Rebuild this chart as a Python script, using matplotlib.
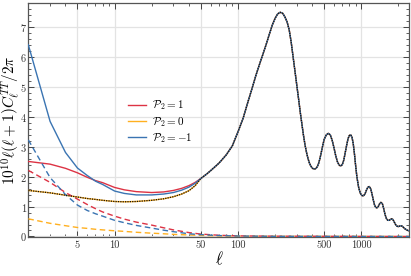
import numpy as np
import matplotlib
matplotlib.use("Agg")
import matplotlib.pyplot as plt
from matplotlib.ticker import FixedLocator, NullFormatter, FixedFormatter

plt.rcParams['mathtext.fontset'] = 'cm'
plt.rcParams['font.family'] = ['cmr10', 'DejaVu Serif']
plt.rcParams['axes.formatter.use_mathtext'] = True

# ---- data ----
ell_low = [2, 3, 4, 5, 6, 7, 8, 10, 12, 15, 20, 25, 30, 35, 40, 45]
P1_low  = [2.51, 2.42, 2.28, 2.13, 1.98, 1.87, 1.80, 1.64, 1.56, 1.50, 1.47, 1.49, 1.54, 1.61, 1.70, 1.81]
P0_low  = [1.54, 1.46, 1.38, 1.32, 1.27, 1.24, 1.21, 1.17, 1.16, 1.17, 1.21, 1.26, 1.33, 1.42, 1.53, 1.70]
Pm1_low = [6.41, 3.85, 2.81, 2.29, 2.04, 1.85, 1.74, 1.52, 1.44, 1.39, 1.39, 1.42, 1.47, 1.55, 1.65, 1.78]

ell_high = [50, 55, 60, 70, 80, 90, 100, 110, 120, 130, 140, 150, 160, 170, 180,
            190, 200, 210, 220, 230, 240, 250, 260, 270, 280, 290, 300, 310, 320,
            330, 340, 350, 360, 370, 380, 390, 400, 410, 420, 430, 440, 450, 460,
            470, 480, 490, 500, 520, 540, 560, 580, 600, 620, 640, 660, 680, 700,
            720, 740, 760, 780, 800, 820, 840, 860, 880, 900, 920, 950, 980, 1010,
            1040, 1070, 1100, 1130, 1160, 1190, 1220, 1250, 1280, 1310, 1340, 1370,
            1400, 1440, 1480, 1520, 1560, 1600, 1640, 1680, 1720, 1760, 1800, 1850,
            1900, 1950, 2000, 2050, 2090, 2150, 2250, 2350, 2500]
cl_high  = [1.94, 2.07, 2.20, 2.45, 2.72, 3.03, 3.50, 3.95, 4.48, 4.95, 5.40, 5.78,
            6.12, 6.45, 6.78, 7.08, 7.30, 7.45, 7.50, 7.47, 7.35, 7.18, 6.92, 6.50,
            6.00, 5.52, 5.05, 4.60, 4.15, 3.75, 3.37, 3.05, 2.80, 2.60, 2.45, 2.35,
            2.29, 2.26, 2.26, 2.28, 2.34, 2.44, 2.58, 2.75, 2.93, 3.10, 3.25, 3.40,
            3.45, 3.40, 3.22, 2.97, 2.70, 2.50, 2.39, 2.36, 2.40, 2.55, 2.80, 3.05,
            3.27, 3.38, 3.40, 3.32, 3.10, 2.75, 2.35, 2.00, 1.65, 1.45, 1.37, 1.36,
            1.42, 1.55, 1.65, 1.67, 1.60, 1.42, 1.22, 1.05, 0.97, 0.96, 1.00, 1.08,
            1.14, 1.10, 0.92, 0.72, 0.59, 0.54, 0.54, 0.57, 0.59, 0.57, 0.48, 0.39,
            0.34, 0.33, 0.35, 0.36, 0.34, 0.26, 0.21, 0.17]

ell_dash = [2, 3, 4, 5, 6, 7, 8, 10, 12, 15, 20, 25, 30, 40, 50, 70, 100, 200, 2500]
P1_dash  = [2.21, 1.81, 1.47, 1.25, 1.07, 0.93, 0.82, 0.68, 0.58, 0.48, 0.38, 0.29,
            0.22, 0.13, 0.08, 0.04, 0.02, 0.01, 0.0]
P0_dash  = [0.59, 0.44, 0.36, 0.30, 0.27, 0.24, 0.22, 0.19, 0.17, 0.14, 0.11, 0.09,
            0.07, 0.05, 0.035, 0.02, 0.01, 0.005, 0.0]
Pm1_dash = [3.23, 1.97, 1.40, 1.05, 0.87, 0.76, 0.68, 0.54, 0.46, 0.37, 0.28, 0.21,
            0.16, 0.09, 0.06, 0.03, 0.015, 0.005, 0.0]

labels = [r'$\mathcal{P}_2=1$', r'$\mathcal{P}_2=0$', r'$\mathcal{P}_2=-1$']
colors = ['#DD3344', '#FFB020', '#3A74B2']

xticks_major = [5, 10, 50, 100, 500, 1000]
xtick_labels = ['5', '10', '50', '100', '500', '1000']

# ---- figure ----
fig = plt.figure(figsize=(4.11, 2.76), dpi=100)
ax = fig.add_axes([0.069, 0.140, 0.927, 0.850])

ell_full = ell_low + ell_high
solids = [P1_low + cl_high, P0_low + cl_high, Pm1_low + cl_high]
dashes = [P1_dash, P0_dash, Pm1_dash]

for y, c, lab in zip(solids, colors, labels):
    ax.plot(ell_full, y, color=c, lw=1.0, label=lab, zorder=3)
for y, c in zip(dashes, colors):
    ax.plot(ell_dash, y, color=c, lw=1.0, ls=(0, (4, 2.5)), zorder=3)
ax.plot(ell_full, P0_low + cl_high, color='#111111', lw=0.9, ls=(0, (1, 0.9)), zorder=4)

ax.set_xscale('log')
ax.set_xlim(2, 2450)
ax.set_ylim(-0.03, 7.82)

ax.xaxis.set_major_locator(FixedLocator(xticks_major))
ax.xaxis.set_major_formatter(FixedFormatter(xtick_labels))
minor = [m * 10**d for d in range(0, 4) for m in range(1, 10)]
minor = [v for v in minor if 2 <= v <= 2450 and v not in xticks_major]
ax.xaxis.set_minor_locator(FixedLocator(minor))
ax.xaxis.set_minor_formatter(NullFormatter())

ax.set_yticks(range(0, 8))
ax.yaxis.set_minor_locator(FixedLocator(np.arange(0, 7.81, 0.2)))

ax.tick_params(which='both', direction='in', top=True, right=True,
               labelsize=7.5, colors='#444444', labelcolor='#333333')
ax.tick_params(which='major', length=4, width=0.7, pad=2)
ax.tick_params(which='minor', length=2, width=0.6)
ax.tick_params(axis='y', pad=1)

ax.grid(True, which='major', color='#e3e3e3', lw=0.9, zorder=0)
for s in ax.spines.values():
    s.set_color('#555555')
    s.set_linewidth(0.9)

ax.set_xlabel(r'$\ell$', fontsize=12, labelpad=0)
ax.set_ylabel(r'$10^{10}\ell(\ell+1)C_\ell^{TT}/2\pi$', fontsize=11)
ax.yaxis.set_label_coords(-0.018, 0.5)

leg = ax.legend(loc='upper left', bbox_to_anchor=(0.235, 0.635), frameon=False,
                fontsize=8, handlelength=1.6, labelspacing=0.22, handletextpad=0.6)

fig.savefig('out.png', dpi=100)
